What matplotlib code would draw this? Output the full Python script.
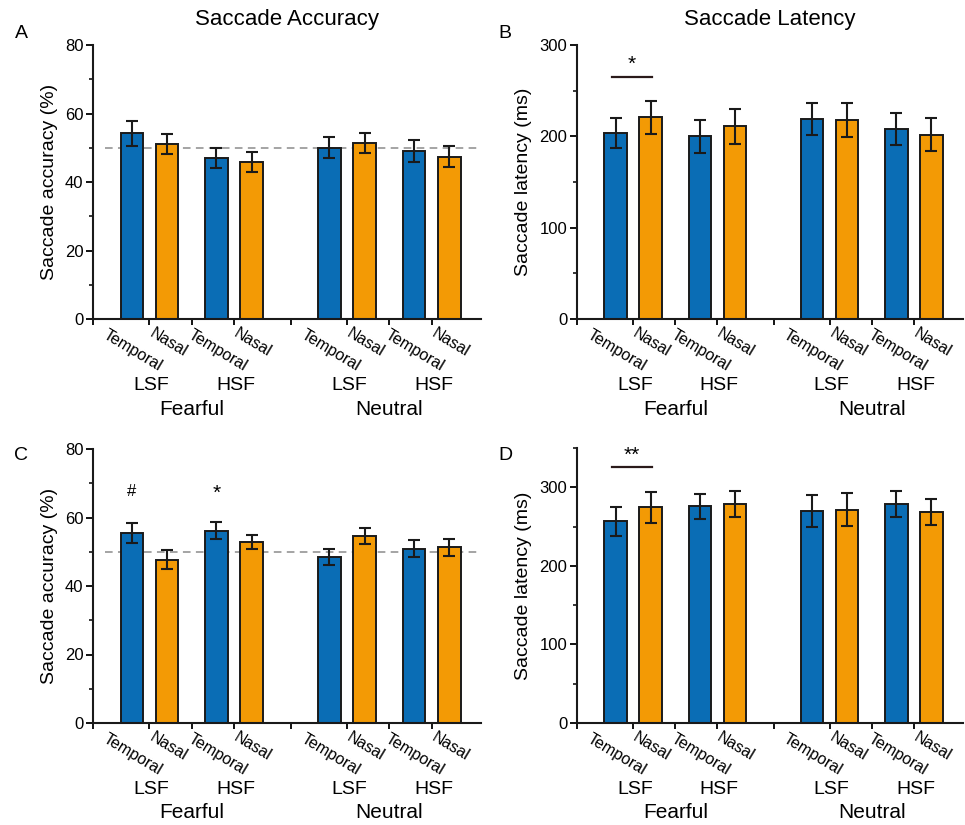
import matplotlib
matplotlib.use("Agg")
import matplotlib.pyplot as plt
from matplotlib.ticker import MultipleLocator

plt.rcParams['font.family'] = ['Liberation Sans', 'DejaVu Sans']

# donnees (ordre : Fearful LSF T/N, Fearful HSF T/N, Neutral LSF T/N, Neutral HSF T/N)
cond = ["Temporal", "Nasal", "Temporal", "Nasal", "Temporal", "Nasal", "Temporal", "Nasal"]
sf = ["LSF", "HSF", "LSF", "HSF"]
emotion = ["Fearful", "Neutral"]

acc_a = [54.2, 51.1, 46.9, 45.8, 50.0, 51.4, 49.0, 47.4]
err_a = [3.6, 3.0, 2.9, 3.0, 3.0, 3.0, 3.2, 3.0]
lat_b = [204, 221, 200, 211, 219, 218, 208, 202]
err_b = [16.5, 18, 18, 19, 17.5, 18.5, 18, 18]
acc_c = [55.5, 47.7, 56.2, 52.8, 48.4, 54.6, 50.9, 51.3]
err_c = [2.8, 2.7, 2.4, 2.0, 2.4, 2.2, 2.5, 2.5]
lat_d = [256.6, 274.5, 275.7, 278.7, 269.8, 271.5, 278.7, 268.5]
err_d = [18.3, 20, 15.8, 16.2, 20.8, 20.8, 16.6, 16.6]

bleu = "#0A6DB5"
orange = "#F39A05"

# positions des barres
pos = []
x = 1.1
for i in range(8):
    pos.append(x)
    if i % 2 == 0:
        x += 1.0
    elif i == 3:
        x += 2.2
    else:
        x += 1.4

W, H = 965, 825
fig = plt.figure(figsize=(W / 100, H / 100), dpi=100)


def panneau(rect, vals, errs, ymax, major, ylabel, dashed=False):
    ax = fig.add_axes(rect)
    couleurs = [bleu if i % 2 == 0 else orange for i in range(8)]
    ax.bar(pos, vals, width=0.64, color=couleurs, edgecolor="#1a1a1a", linewidth=1.4, zorder=2)
    ax.errorbar(pos, vals, yerr=errs, fmt="none", ecolor="#1a1a1a", elinewidth=1.5,
                capsize=4.3, capthick=1.5, zorder=3)
    if dashed:
        ax.axhline(50, xmin=0.03, xmax=1, color="#8c8c8c", linestyle=(0, (5, 3.5)), linewidth=1.1, zorder=1)
    ax.set_xlim(0, 11)
    ax.set_ylim(0, ymax)
    ax.yaxis.set_major_locator(MultipleLocator(major))
    ax.yaxis.set_minor_locator(MultipleLocator(major / 2))
    milieux = [0] + [(pos[i] + pos[i + 1]) / 2 for i in range(7)]
    ax.set_xticks(milieux)
    ax.set_xticklabels([])
    ax.tick_params(axis="x", length=4, width=1.3, direction="out")
    ax.tick_params(axis="y", which="major", length=5, width=1.3, labelsize=12, pad=2)
    ax.tick_params(axis="y", which="minor", length=3, width=1.1)
    for s in ["top", "right"]:
        ax.spines[s].set_visible(False)
    for s in ["left", "bottom"]:
        ax.spines[s].set_linewidth(1.5)
        ax.spines[s].set_color("#1a1a1a")
    ax.set_ylabel(ylabel, fontsize=14, labelpad=5)

    tr = ax.get_xaxis_transform()
    # etiquettes inclinees
    for i in range(8):
        dy = -32 if cond[i] == "Temporal" else -24
        ax.annotate(cond[i], xy=(pos[i], 0), xycoords=tr, xytext=(1, dy), textcoords="offset pixels",
                    ha="center", va="center", rotation=-31, rotation_mode="anchor", fontsize=11.5)
    for k in range(4):
        xc = (pos[2 * k] + pos[2 * k + 1]) / 2
        ax.annotate(sf[k], xy=(xc, 0), xycoords=tr, xytext=(2, -66), textcoords="offset pixels",
                    ha="center", va="center", fontsize=14)
    for k in range(2):
        xc = (pos[4 * k] + pos[4 * k + 3]) / 2
        ax.annotate(emotion[k], xy=(xc, 0), xycoords=tr, xytext=(0, -90), textcoords="offset pixels",
                    ha="center", va="center", fontsize=15)
    return ax


def rect(x0, x1, ytop, ybot):
    return [x0 / W, 1 - ybot / H, (x1 - x0) / W, (ybot - ytop) / H]


axA = panneau(rect(93, 481, 45, 319), acc_a, err_a, 80, 20, "Saccade accuracy (%)", dashed=True)
axB = panneau(rect(577, 963, 45, 319), lat_b, err_b, 300, 100, "Saccade latency (ms)")
axC = panneau(rect(93, 481, 449, 723), acc_c, err_c, 80, 20, "Saccade accuracy (%)", dashed=True)
axD = panneau(rect(577, 963, 448, 723), lat_d, err_d, 350, 100, "Saccade latency (ms)")
axD.yaxis.set_major_locator(plt.FixedLocator([0, 100, 200, 300]))

# significativite
axB.plot([1.0, 2.15], [265, 265], color="#2a1a1a", linewidth=1.6)
axB.text(1.57, 268, "*", ha="center", va="bottom", fontsize=15)
axD.plot([1.0, 2.15], [326, 326], color="#2a1a1a", linewidth=1.6)
axD.text(1.57, 328, "**", ha="center", va="bottom", fontsize=15)
axC.text(pos[0], 67.5, "#", ha="center", va="center", fontsize=12)
axC.text(pos[2], 67, "*", ha="center", va="center", fontsize=15)

# titres et lettres
fig.text((93 + 481) / 2 / W, 1 - 20 / H, "Saccade Accuracy", ha="center", va="center", fontsize=16)
fig.text((577 + 963) / 2 / W, 1 - 20 / H, "Saccade Latency", ha="center", va="center", fontsize=16)
for lettre, xx, yy in [("A", 21, 33), ("B", 505, 33), ("C", 21, 455), ("D", 505, 455)]:
    fig.text(xx / W, 1 - yy / H, lettre, ha="center", va="center", fontsize=14)

plt.savefig("out.png", dpi=100)
